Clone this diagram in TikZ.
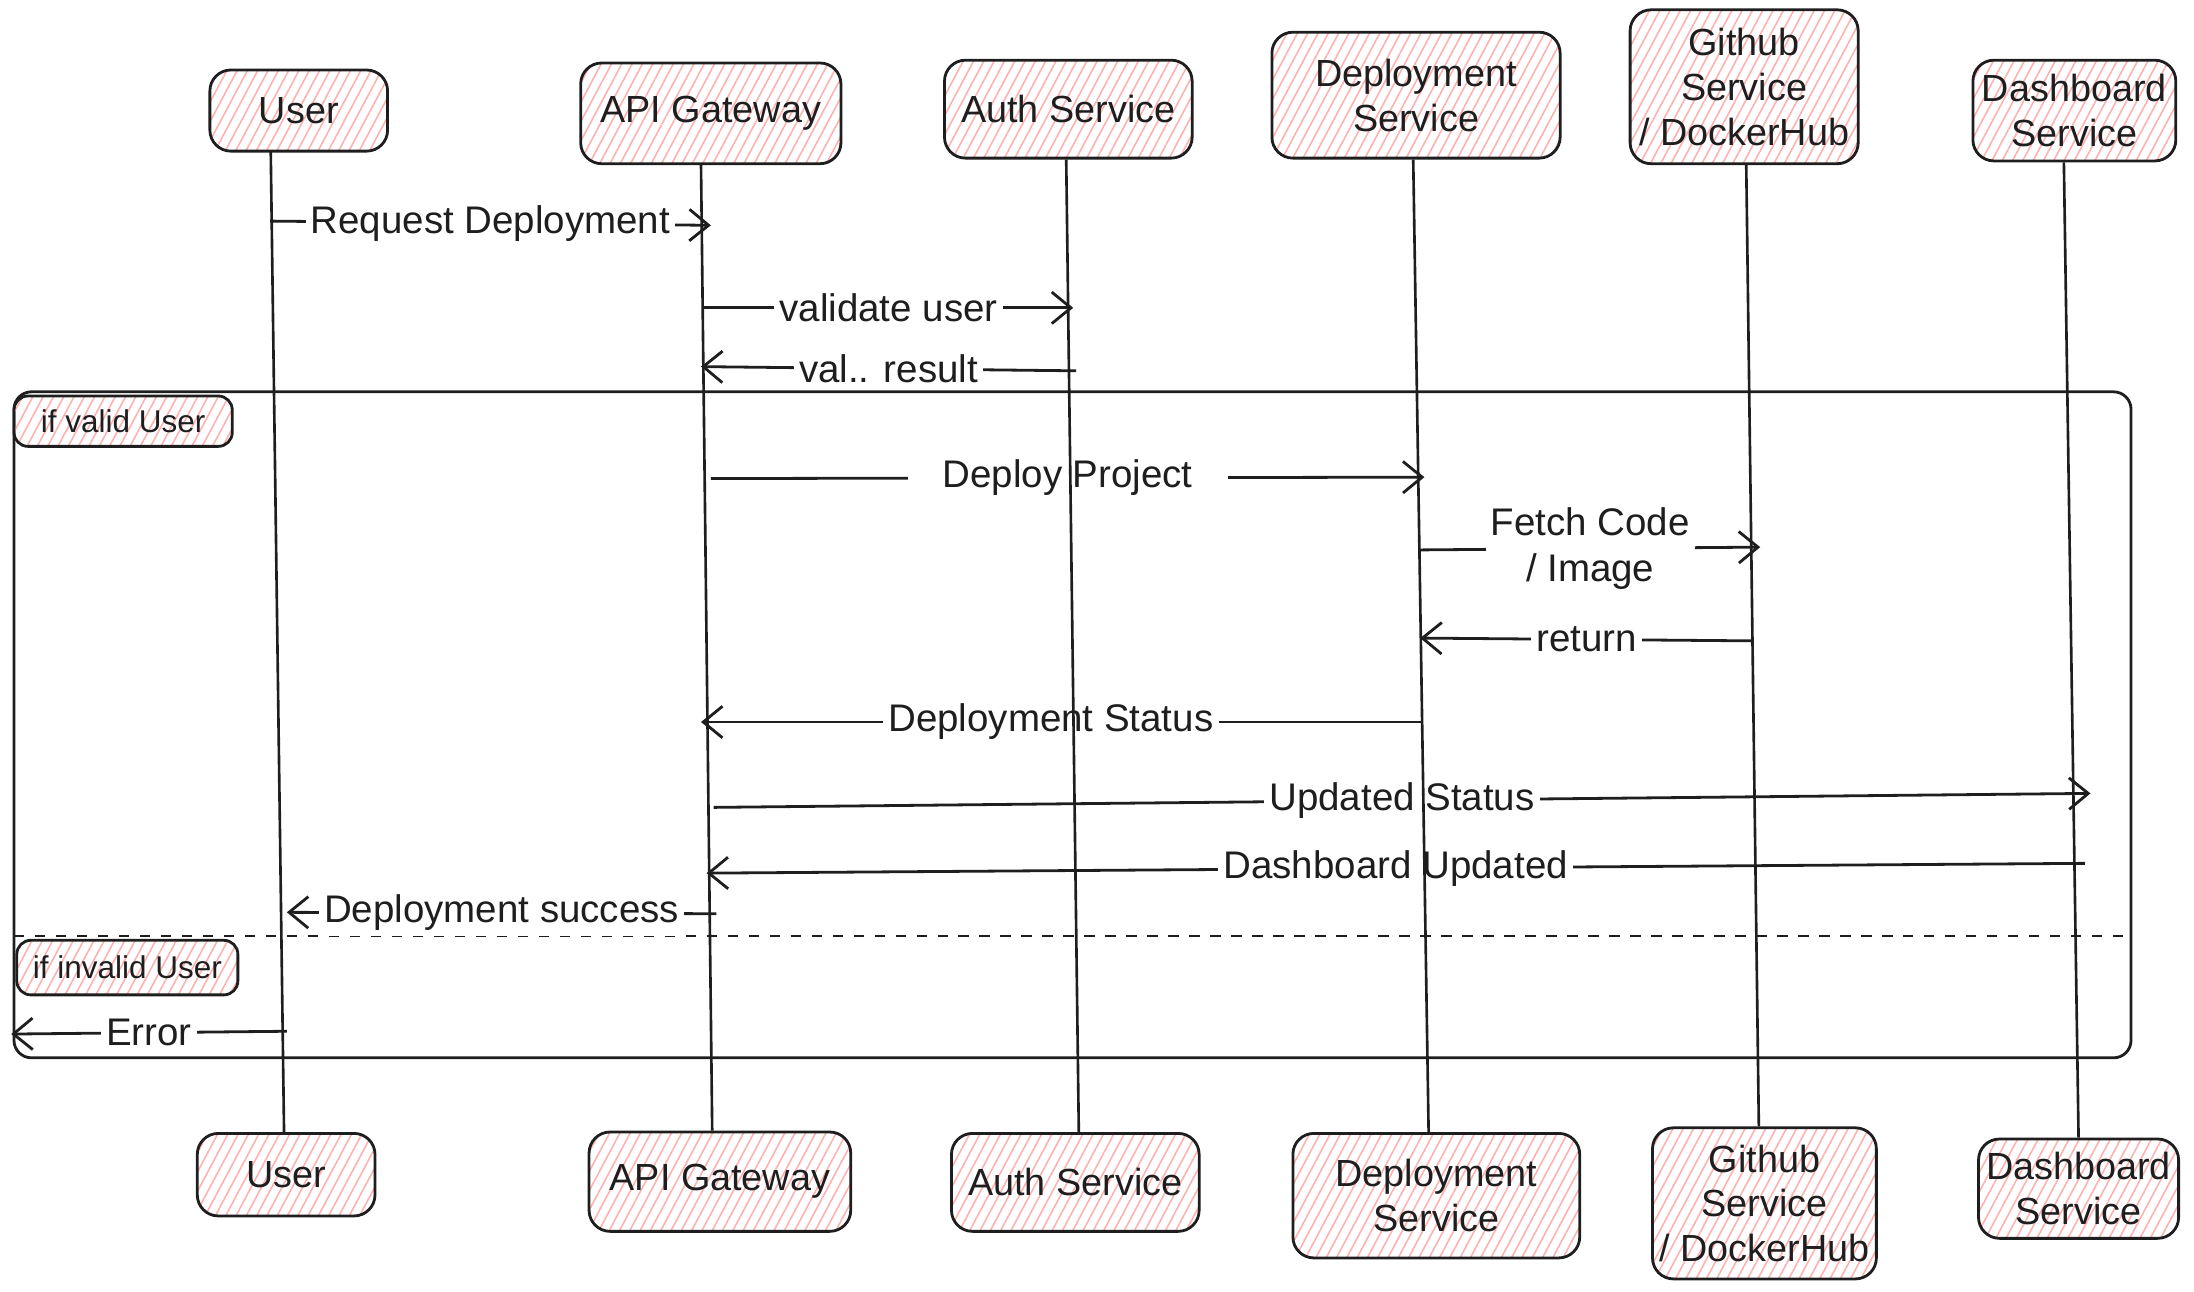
\documentclass[tikz,border=0pt]{standalone}
\usepackage{fontspec}
\setmainfont{Liberation Sans}
\usetikzlibrary{arrows.meta,patterns.meta,calc}
\definecolor{ink}{HTML}{1E1E1E}
\definecolor{hatch}{HTML}{FFB0B0}

\begin{document}
\begin{tikzpicture}[x=0.4pt, y=-0.4pt, color=ink, line width=0.8pt,
    actor/.style={draw, rounded corners=6pt, align=center, inner sep=0pt,
      pattern={Lines[angle=62,distance=2.6pt,line width=0.45pt]}, pattern color=hatch,
      font=\fontsize{10.8}{12.8}\selectfont},
    tag/.style={draw, rounded corners=4pt, inner sep=0pt,
      pattern={Lines[angle=62,distance=2.6pt,line width=0.45pt]}, pattern color=hatch,
      font=\fontsize{9}{11}\selectfont},
    msg/.style={-{Straight Barb[length=5.5pt,width=9pt]}},
    lbl/.style={fill=white, inner sep=1.5pt, align=center, font=\fontsize{11}{13}\selectfont},
    life/.style={line width=0.75pt}]
  \useasboundingbox (0,0) rectangle (1568,923);

  % participants, top row
  \node[actor, minimum width=50.8pt, minimum height=23.2pt] (userT) at (213.5,79) {User};
  \node[actor, minimum width=74.4pt, minimum height=28.8pt] (apiT) at (508,81) {API Gateway};
  \node[actor, minimum width=70.8pt, minimum height=28pt] (authT) at (763.5,78) {Auth Service};
  \node[actor, minimum width=82.4pt, minimum height=36pt] (depT) at (1012,68) {Deployment\\Service};
  \node[actor, minimum width=65.2pt, minimum height=44pt] (ghT) at (1246.5,62) {Github\\Service\\/ DockerHub};
  \node[actor, minimum width=58pt, minimum height=28.8pt] (dashT) at (1482.5,79) {Dashboard\\Service};

  % participants, bottom row
  \node[actor, minimum width=50.8pt, minimum height=23.6pt] (userB) at (204.5,839.5) {User};
  \node[actor, minimum width=74.8pt, minimum height=28.4pt] (apiB) at (514.5,844.5) {API Gateway};
  \node[actor, minimum width=70.8pt, minimum height=28pt] (authB) at (768.5,845) {Auth Service};
  \node[actor, minimum width=82pt, minimum height=35.6pt] (depB) at (1026.5,854.5) {Deployment\\Service};
  \node[actor, minimum width=64pt, minimum height=43.2pt] (ghB) at (1261,860) {Github\\Service\\/ DockerHub};
  \node[actor, minimum width=57.2pt, minimum height=28.4pt] (dashB) at (1485.5,849.5) {Dashboard\\Service};

  % alt frame
  \draw[rounded corners=5pt] (10,280) rectangle (1523,756);
  \draw[dashed, line width=0.6pt] (10,669) -- (1523,669);
  \node[tag, minimum width=62.4pt, minimum height=14.4pt] (okTag) at (88,301) {if valid User};
  \node[tag, minimum width=63.2pt, minimum height=15.6pt] (errTag) at (91,691.5) {if invalid User};

  % messages
  \draw[msg] (193,158) -- node[lbl] (m1) {Request Deployment} (508,161);
  \draw[msg] (503,220) -- node[lbl] (m2) {validate user} (767,220);
  \draw[msg] (769,265) -- node[lbl] (m3) {val.. result} (501,262);
  \draw[msg] (508,342) -- node[lbl, inner xsep=10pt] (m4) {Deploy Project} (1018,341);
  \draw[msg] (1015,393) -- node[lbl] (m5) {Fetch Code\\/ Image} (1258,391);
  \draw[msg] (1253,458) -- node[lbl] (m6) {return} (1015,456);
  \draw[msg] (1016,516) -- node[lbl, xshift=-3pt] (m7) {Deployment Status} (501,516);
  \draw[msg] (510,577) -- node[lbl] (m8) {Updated Status} (1494,567);
  \draw[msg] (1490,617) -- node[lbl] (m9) {Dashboard Updated} (505,624);
  \draw[msg] (512,653) -- node[lbl] (m10) {Deployment success} (205,652);
  \draw[msg] (205,737) -- node[lbl] (m11) {Error} (8,739);

  % lifelines
  \draw[life] ([xshift=-8pt]userT.south) -- ([xshift=-0.6pt]userB.north);
  \draw[life] ([xshift=-2.8pt]apiT.south) -- ([xshift=-2.2pt]apiB.north);
  \draw[life] ([xshift=-0.6pt]authT.south) -- ([xshift=1pt]authB.north);
  \draw[life] ([xshift=-0.8pt]depT.south) -- ([xshift=-2.2pt]depB.north);
  \draw[life] ([xshift=0.6pt]ghT.south) -- ([xshift=-1.6pt]ghB.north);
  \draw[life] ([xshift=-3pt]dashT.south) -- (dashB.north);
\end{tikzpicture}
\end{document}
